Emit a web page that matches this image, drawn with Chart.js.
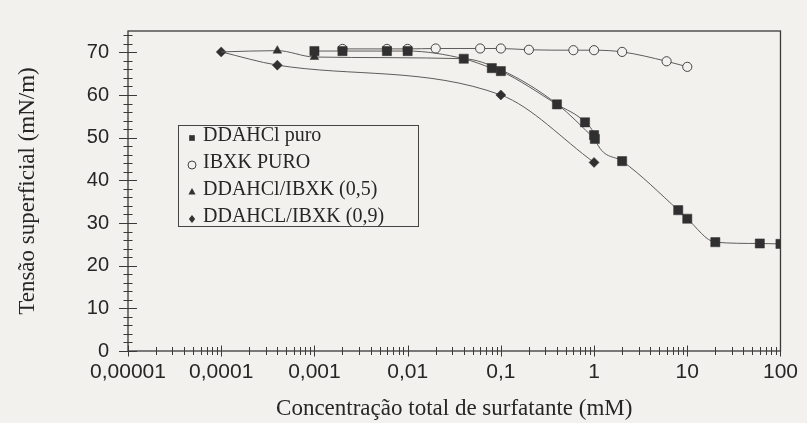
<!DOCTYPE html>
<html>
<head>
<meta charset="utf-8">
<script src="https://cdn.jsdelivr.net/npm/chart.js@4.4.0/dist/chart.umd.min.js"></script>
<style>
  html, body { margin: 0; padding: 0; background: #f3f1ed; }
</style>
</head>
<body>
<canvas id="tensaoChart" width="807" height="423"></canvas>
<script>
// Tensão superficial x concentração total de surfatante
const xTicks = [0.00001, 0.0001, 0.001, 0.01, 0.1, 1, 10, 100];
const xTickLabels = ['0,00001', '0,0001', '0,001', '0,01', '0,1', '1', '10', '100'];
const yTicks = [0, 10, 20, 30, 40, 50, 60, 70];

const seriesNames = ['DDAHCl puro', 'IBXK PURO', 'DDAHCl/IBXK (0,5)', 'DDAHCL/IBXK (0,9)'];

const ddahclX = [0.001, 0.002, 0.006, 0.01, 0.04, 0.08, 0.1, 0.4, 0.8, 1, 1.02, 2, 8, 10, 20, 60, 100];
const ddahclY = [70.3, 70.3, 70.3, 70.3, 68.5, 66.3, 65.6, 57.8, 53.6, 50.6, 49.7, 44.5, 33.0, 31.0, 25.5, 25.2, 25.1];

const ibxkX = [0.002, 0.006, 0.01, 0.02, 0.06, 0.1, 0.2, 0.6, 1, 2, 6, 10];
const ibxkY = [70.8, 70.8, 70.8, 70.9, 70.9, 70.9, 70.6, 70.5, 70.5, 70.1, 67.9, 66.6];

const mix05X = [0.0001, 0.0004, 0.001, 0.04, 0.1, 0.4, 1.02];
const mix05Y = [70.1, 70.4, 68.9, 68.5, 65.9, 57.9, 49.7];

const mix09X = [0.0001, 0.0004, 0.1, 1];
const mix09Y = [70.1, 67.0, 60.0, 44.2];

const bg = '#f3f1ed';
const ink = '#262626';

function pts(xs, ys) {
  return xs.map((x, i) => ({ x: x, y: ys[i] }));
}

function marker(ctx, style, x, y, r) {
  ctx.beginPath();
  if (style === 'rect') {
    const s = r * Math.SQRT1_2;
    ctx.rect(x - s, y - s, 2 * s, 2 * s);
    ctx.fill();
  } else if (style === 'circle') {
    ctx.arc(x, y, r, 0, Math.PI * 2);
    ctx.fillStyle = bg;
    ctx.fill();
    ctx.stroke();
  } else if (style === 'triangle') {
    ctx.moveTo(x, y - r);
    ctx.lineTo(x + r * 0.9, y + r * 0.6);
    ctx.lineTo(x - r * 0.9, y + r * 0.6);
    ctx.closePath();
    ctx.fill();
  } else {
    ctx.moveTo(x, y - r);
    ctx.lineTo(x + r * 0.8, y);
    ctx.lineTo(x, y + r);
    ctx.lineTo(x - r * 0.8, y);
    ctx.closePath();
    ctx.fill();
  }
}

// moldura, marcas dos eixos
const axisTicks = {
  id: 'axisTicks',
  afterDraw(chart) {
    const { ctx, chartArea: a, scales } = chart;
    ctx.save();
    ctx.strokeStyle = '#3a3a3a';
    ctx.lineWidth = 1.3;
    ctx.strokeRect(a.left, a.top, a.right - a.left, a.bottom - a.top);
    ctx.lineWidth = 1;
    ctx.beginPath();
    for (let v = 0; v <= 74; v += 2) {
      const py = Math.round(scales.y.getPixelForValue(v)) + 0.5;
      const len = v % 10 === 0 ? 9 : 4.5;
      ctx.moveTo(a.left - len, py);
      ctx.lineTo(a.left + len, py);
    }
    for (let d = -5; d <= 2; d++) {
      for (let m = 1; m <= 9; m++) {
        if (d === 2 && m > 1) break;
        const px = Math.round(scales.x.getPixelForValue(m * Math.pow(10, d))) + 0.5;
        const len = m === 1 ? 5.5 : 4;
        ctx.moveTo(px, a.bottom - len);
        ctx.lineTo(px, a.bottom + len);
      }
    }
    ctx.stroke();
    ctx.restore();
  }
};

// legenda com caixa dentro da área do gráfico
const boxLegend = {
  id: 'boxLegend',
  afterDraw(chart) {
    const { ctx, chartArea: a } = chart;
    const bx = a.left + 50, by = a.top + 94, bw = 240, bh = 101;
    ctx.save();
    ctx.strokeStyle = '#444';
    ctx.lineWidth = 1;
    ctx.strokeRect(Math.round(bx) + 0.5, Math.round(by) + 0.5, bw, bh);
    ctx.font = '20px "Liberation Serif"';
    ctx.textBaseline = 'middle';
    chart.data.datasets.forEach((ds, i) => {
      const cy = by + 11 + i * 27;
      ctx.fillStyle = '#333';
      ctx.strokeStyle = '#444';
      marker(ctx, ds.pointStyle, bx + 14, cy + 2, 4);
      ctx.fillStyle = ink;
      ctx.fillText(ds.label, bx + 25, cy);
    });
    ctx.restore();
  }
};

const lineStyle = {
  borderColor: '#5c5c5c',
  borderWidth: 1,
  tension: 0.4,
  cubicInterpolationMode: 'monotone',
  fill: false
};

new Chart(document.getElementById('tensaoChart'), {
  type: 'line',
  data: {
    datasets: [
      Object.assign({
        label: seriesNames[0],
        data: pts(ddahclX, ddahclY),
        pointStyle: 'rect',
        pointRadius: 6.5,
        pointBackgroundColor: '#303030',
        pointBorderColor: '#303030',
        pointBorderWidth: 0.5
      }, lineStyle),
      Object.assign({
        label: seriesNames[1],
        data: pts(ibxkX, ibxkY),
        pointStyle: 'circle',
        pointRadius: 4.6,
        pointBackgroundColor: bg,
        pointBorderColor: '#444',
        pointBorderWidth: 1
      }, lineStyle),
      Object.assign({
        label: seriesNames[2],
        data: pts(mix05X, mix05Y),
        pointStyle: 'triangle',
        pointRadius: [0, 5, 5, 0, 0, 0, 0],
        pointBackgroundColor: '#303030',
        pointBorderColor: '#303030',
        pointBorderWidth: 0.5
      }, lineStyle),
      Object.assign({
        label: seriesNames[3],
        data: pts(mix09X, mix09Y),
        pointStyle: 'rectRot',
        pointRadius: 5,
        pointBackgroundColor: '#303030',
        pointBorderColor: '#303030',
        pointBorderWidth: 0.5
      }, lineStyle)
    ]
  },
  options: {
    responsive: false,
    animation: false,
    devicePixelRatio: 1,
    layout: { padding: { top: 11, right: 20, left: 0, bottom: 0 } },
    plugins: {
      legend: { display: false },
      tooltip: { enabled: false }
    },
    scales: {
      x: {
        type: 'logarithmic',
        min: 0.00001,
        max: 100,
        grid: { display: false, drawTicks: false },
        border: { display: false },
        afterBuildTicks: (s) => { s.ticks = xTicks.map(v => ({ value: v })); },
        afterFit: (s) => { s.height = 72; },
        ticks: {
          autoSkip: false,
          maxRotation: 0,
          padding: 9,
          color: ink,
          font: { family: '"Liberation Sans"', size: 21 },
          callback: (v, i) => xTickLabels[i]
        },
        title: {
          display: true,
          text: 'Concentração total de surfatante (mM)',
          color: ink,
          font: { family: '"Liberation Serif"', size: 23 },
          padding: { top: 0, bottom: 0 }
        }
      },
      y: {
        min: 0,
        max: 75,
        grid: { display: false, drawTicks: false },
        border: { display: false },
        afterBuildTicks: (s) => { s.ticks = yTicks.map(v => ({ value: v })); },
        afterFit: (s) => { s.width = 128; },
        ticks: {
          padding: 19,
          color: ink,
          font: { family: '"Liberation Sans"', size: 20 }
        },
        title: {
          display: true,
          text: 'Tensão superficial (mN/m)',
          color: ink,
          font: { family: '"Liberation Serif"', size: 23 },
          padding: { top: 14, bottom: 0 }
        }
      }
    }
  },
  plugins: [axisTicks, boxLegend]
});
</script>
</body>
</html>
